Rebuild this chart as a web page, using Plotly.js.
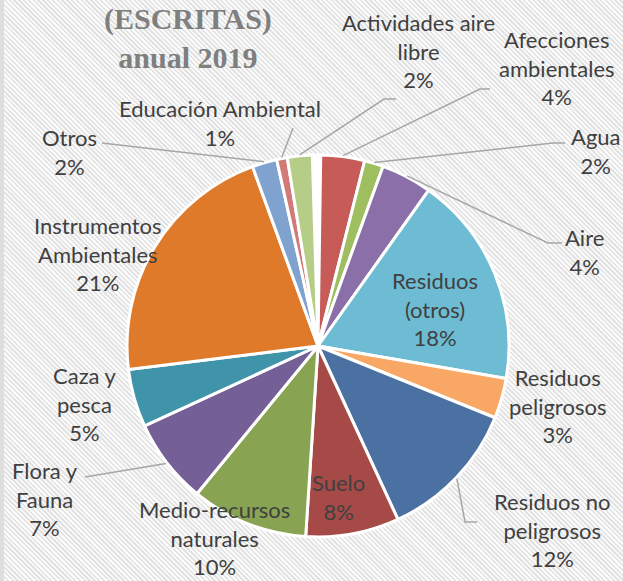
<!DOCTYPE html>
<html><head><meta charset="utf-8">
<script src="https://cdn.plot.ly/plotly-3.0.1.min.js"></script>
<style>
html,body{margin:0;padding:0;background:#fff;}
#wrap{position:relative;width:623px;height:581px;overflow:hidden;
 background: repeating-linear-gradient(45deg,#fbfbfb 0px,#fbfbfb 1.7px,#e3e3e3 1.7px,#e3e3e3 3.4px);}
#wrap:before{content:'';position:absolute;left:0;top:0;width:4px;height:100%;background:#dedede;z-index:0;}
#chart{position:absolute;left:0;top:0;width:623px;height:581px;z-index:1;}
</style></head><body><div id="wrap"><div id="chart"></div></div>
<script>
// ---- data ----
const categories = ["(sin dato)", "Afecciones ambientales", "Agua", "Aire", "Residuos (otros)",
  "Residuos peligrosos", "Residuos no peligrosos", "Suelo", "Medio-recursos naturales",
  "Flora y Fauna", "Caza y pesca", "Instrumentos Ambientales", "Otros",
  "Educación Ambiental", "Actividades aire libre"];
const values = [0.7, 3.7, 1.6, 4.3, 17.9, 3.4, 12.0, 7.9, 9.9, 7.2, 4.9, 21.4, 2.1, 0.9, 2.1];
const labelLines = ["", "Afecciones<br>ambientales", "Agua", "Aire", "Residuos<br>(otros)",
  "Residuos<br>peligrosos", "Residuos no<br>peligrosos", "Suelo", "Medio-recursos<br>naturales",
  "Flora y<br>Fauna", "Caza y<br>pesca", "Instrumentos<br>Ambientales", "Otros",
  "Educación Ambiental", "Actividades aire<br>libre"];
const titleLines = ["(ESCRITAS)", "anual 2019"];

// ---- styles / layout ----
const colors = ["#ffffff","#c65b58","#9fbe5f","#8a6fa9","#6ebcd3","#f8a764","#4b70a2","#a64a48",
  "#88a452","#745f97","#3f94aa","#e07a2b","#7fa2cf","#d27a77","#b5cd86"];
const W = 623, H = 581;
const CX = 318, CY = 346, R = 191;
const ROT = -1.7;
// label block centres (px)
const labelPos = {1:[557,68], 2:[596,151], 3:[584,252], 4:[435,309], 5:[557,406], 6:[552,530],
  7:[338,497], 8:[214,538], 9:[45,499], 10:[85,404], 11:[98,254], 12:[69,152], 13:[220,123], 14:[418,51]};
// leader line anchors (px), line ends at slice edge
const leaderAnchors = {1:[[490,89],[480,89]], 2:[[565,143],[553,143]], 3:[[562,243],[548,243]],
  6:[[477,522],[465,522]], 9:[[85,477]], 12:[[102,143]], 13:[[293,128]], 14:[[396,99],[384,99]]};

const px2x = x => x / W, px2y = y => 1 - y / H;
const total = values.reduce((a,b)=>a+b,0);
const pct = values.map(v => Math.round(v / total * 100) + '%');

let cum = 0;
const midAngles = values.map(v => { const a = ROT + (cum + v/2) / total * 360; cum += v; return a; });

const annotations = [];
Object.keys(labelPos).forEach(k => {
  const i = +k, p = labelPos[i];
  annotations.push({xref:'paper', yref:'paper', x:px2x(p[0]), y:px2y(p[1]), xanchor:'center', yanchor:'middle',
    align:'center', showarrow:false, text: labelLines[i] + '<br>' + pct[i],
    font:{family:'Lato, "Open Sans", sans-serif', size:22, color:'#404040'}});
});
annotations.push({xref:'paper', yref:'paper', x:px2x(188), y:px2y(38), xanchor:'center', yanchor:'middle',
  align:'center', showarrow:false, text:'<b>' + titleLines.join('<br>') + '</b>',
  font:{family:'"Liberation Serif", "DejaVu Serif", serif', size:30, color:'#7f7f7f'}});

const shapes = [];
Object.keys(leaderAnchors).forEach(k => {
  const i = +k, pts = leaderAnchors[i].slice();
  const a = midAngles[i] * Math.PI / 180;
  pts.push([CX + (R+1) * Math.sin(a), CY - (R+1) * Math.cos(a)]);
  const path = pts.map((p, j) => (j ? 'L' : 'M') + px2x(p[0]).toFixed(5) + ',' + px2y(p[1]).toFixed(5)).join(' ');
  shapes.push({type:'path', xref:'paper', yref:'paper', path:path, line:{color:'#a6a6a6', width:1.5}});
});

const trace = {
  type:'pie', labels:categories, values:values, sort:false, direction:'clockwise', rotation:ROT,
  marker:{colors:colors, line:{color:'#ffffff', width:3}},
  textinfo:'none', hoverinfo:'label+percent',
  domain:{x:[px2x(CX-R), px2x(CX+R)], y:[px2y(CY+R), px2y(CY-R)]}
};

Plotly.newPlot('chart', [trace], {
  width:W, height:H, margin:{l:0,r:0,t:0,b:0}, showlegend:false,
  paper_bgcolor:'rgba(0,0,0,0)', plot_bgcolor:'rgba(0,0,0,0)',
  annotations:annotations, shapes:shapes
}, {displayModeBar:false, staticPlot:true});
</script></body></html>
